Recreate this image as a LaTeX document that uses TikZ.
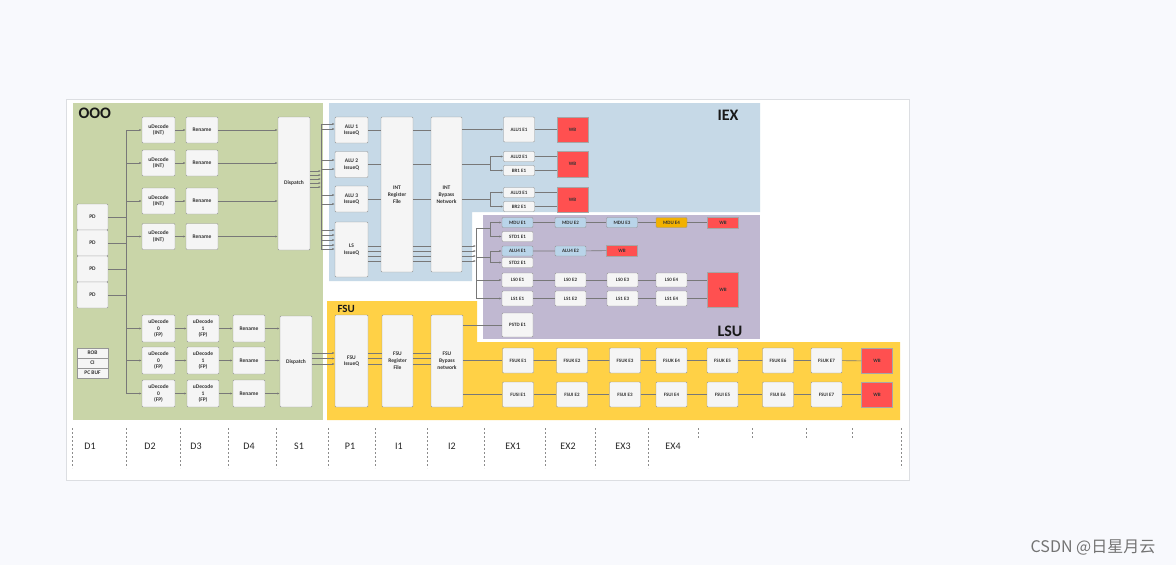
\documentclass[tikz,border=0pt]{standalone}
\usepackage{fontspec}
\setmainfont{Carlito}
\newfontfamily\cjkfont{Noto Sans CJK SC}
\usetikzlibrary{arrows.meta,positioning,calc}

\definecolor{pagebg}{RGB}{248,249,253}
\definecolor{framegray}{RGB}{220,222,226}
\definecolor{ooogreen}{RGB}{201,213,168}
\definecolor{iexblue}{RGB}{198,217,231}
\definecolor{lsupurple}{RGB}{192,184,209}
\definecolor{fsuyellow}{RGB}{255,209,70}
\definecolor{boxfill}{RGB}{245,245,245}
\definecolor{boxedge}{RGB}{150,150,150}
\definecolor{wbred}{RGB}{255,80,80}
\definecolor{mdublue}{RGB}{185,212,233}
\definecolor{mduorange}{RGB}{242,177,0}
\definecolor{linegray}{RGB}{120,120,120}

\begin{document}
\begin{tikzpicture}[x=1pt,y=-1pt,
    blk/.style={draw=boxedge, fill=boxfill, rounded corners=1pt, align=center, inner sep=0pt,
      font=\fontsize{5.5}{6.8}\selectfont\bfseries, text=black!80, minimum width=32, minimum height=26},
    cell/.style={blk, minimum width=31, minimum height=10, font=\fontsize{5}{5.5}\selectfont\bfseries},
    wb/.style={cell, fill=wbred, draw=black!35, rounded corners=0pt},
    ln/.style={draw=linegray, line width=0.6pt},
    arr/.style={ln, -{Latex[length=2.4pt,width=2pt]}},
    region/.style={font=\fontsize{16}{16}\selectfont\bfseries, text=black!90},
    stagesep/.style={draw=black!45, dashed, dash pattern=on 2pt off 2pt, line width=0.5pt},
    stagelbl/.style={font=\fontsize{10}{10}\selectfont, text=black!85}
  ]
  % page and frame
  \useasboundingbox[fill=pagebg] (0,0) rectangle (1176,565);
  \draw[framegray, fill=white] (66,99) rectangle (909,480);

  % regions
  \fill[ooogreen] (73,103) rectangle (323,420);
  \fill[iexblue] (329,103) -- (760,103) -- (760,212) -- (472,212) -- (472,281) -- (329,281) -- cycle;
  \fill[lsupurple] (483,215) rectangle (760,339);
  \fill[fsuyellow] (327,301) -- (477,301) -- (477,342) -- (900,342) -- (900,420) -- (327,420) -- cycle;

  \node[region, anchor=west] (lbl-ooo) at (75,113.5) {OOO};
  \node[region] (lbl-iex) at (728,115) {IEX};
  \node[region] (lbl-lsu) at (730,331) {LSU};
  \node[region, anchor=west, font=\fontsize{11}{11}\selectfont\bfseries] (lbl-fsu) at (334,309) {FSU};

  % ---- OOO ----
  \node[blk, minimum width=31] (pd1) at (92.5,217) {PD};
  \node[blk, minimum width=31] (pd2) at (92.5,243) {PD};
  \node[blk, minimum width=31] (pd3) at (92.5,269) {PD};
  \node[blk, minimum width=31] (pd4) at (92.5,295) {PD};
  \node[blk, minimum width=31, minimum height=10, rounded corners=0pt] (rob) at (92.5,353) {ROB};
  \node[blk, minimum width=31, minimum height=10, rounded corners=0pt] (ci) at (92.5,363) {CI};
  \node[blk, minimum width=31, minimum height=10, rounded corners=0pt] (pcbuf) at (92.5,373) {PC BUF};

  \foreach \i/\y in {1/130,2/163,3/201,4/236.5}{
    \node[blk, minimum width=33] (dec\i) at (158.5,\y) {uDecode\\(INT)};
    \node[blk] (ren\i) at (202,\y) {Rename};
  }
  \node[blk, minimum height=133] (dispI) at (294,183.5) {Dispatch};

  \foreach \i/\y in {1/328.5,2/360.5,3/393.5}{
    \node[blk, minimum width=33, minimum height=27] (fda\i) at (158.5,\y) {uDecode\\0\\(FP)};
    \node[blk, minimum height=27] (fdb\i) at (203,\y) {uDecode\\1\\(FP)};
    \node[blk, minimum height=27] (fren\i) at (249,\y) {Rename};
  }
  \node[blk, minimum height=91] (dispF) at (296,361.5) {Dispatch};

  % ---- IEX ----
  \node[blk, minimum width=33] (iq1) at (351.5,130) {ALU 1\\IssueQ};
  \node[blk, minimum width=33] (iq2) at (351.5,164.5) {ALU 2\\IssueQ};
  \node[blk, minimum width=33] (iq3) at (351.5,199) {ALU 3\\IssueQ};
  \node[blk, minimum width=33, minimum height=55] (lsq) at (351.5,249.5) {LS\\IssueQ};
  \node[blk, minimum height=155] (irf) at (397,194.5) {INT\\Register\\File};
  \node[blk, minimum width=31, minimum height=155] (ibyp) at (446.5,194.5) {INT\\Bypass\\Network};

  \node[cell, minimum height=25] (alu1e1) at (519,129.5) {ALU1 E1};
  \node[cell] (alu2e1) at (519,156.5) {ALU2 E1};
  \node[cell] (br1e1) at (519,170.5) {BR1 E1};
  \node[cell] (alu3e1) at (519,192.5) {ALU3 E1};
  \node[cell] (br2e1) at (519,206.5) {BR2 E1};
  \node[wb, minimum height=25] (wb1) at (572.5,129.5) {WB};
  \node[wb, minimum height=26] (wb2) at (572.5,164) {WB};
  \node[wb, minimum height=25] (wb3) at (572.5,199.5) {WB};

  % ---- LSU ----
  \node[cell, fill=mdublue] (mdu1) at (517.5,222.5) {MDU E1};
  \node[cell] (std1) at (517.5,236.5) {STD1 E1};
  \node[cell, fill=mdublue] (alu4e1) at (517.5,251) {ALU4 E1};
  \node[cell] (std2) at (517.5,262.5) {STD2 E1};
  \node[cell, minimum height=14] (ls0e1) at (517.5,280) {LS0 E1};
  \node[cell, minimum height=15] (ls1e1) at (517.5,298.5) {LS1 E1};
  \node[cell, minimum height=24] (pstd) at (517.5,325) {PSTD E1};

  \node[cell, fill=mdublue] (mdu2) at (570.5,222.5) {MDU E2};
  \node[cell, fill=mdublue] (mdu3) at (622,222.5) {MDU E3};
  \node[cell, fill=mduorange] (mdu4) at (671.5,222.5) {MDU E4};
  \node[wb, minimum height=11] (wbm) at (723,222.5) {WB};
  \node[cell, fill=mdublue] (alu4e2) at (570.5,251) {ALU4 E2};
  \node[wb, minimum height=11] (wba) at (622,250.5) {WB};

  \node[cell, minimum height=14] (ls0e2) at (570.5,280) {LS0 E2};
  \node[cell, minimum height=14] (ls0e3) at (622.5,280) {LS0 E3};
  \node[cell, minimum height=14] (ls0e4) at (671.5,280) {LS0 E4};
  \node[cell, minimum height=15] (ls1e2) at (570.5,298.5) {LS1 E2};
  \node[cell, minimum height=15] (ls1e3) at (622.5,298.5) {LS1 E3};
  \node[cell, minimum height=15] (ls1e4) at (671.5,298.5) {LS1 E4};
  \node[wb, minimum height=35] (wbl) at (723,289.5) {WB};

  % ---- FSU ----
  \node[blk, minimum width=33, minimum height=92] (fiq) at (351.5,361) {FSU\\IssueQ};
  \node[blk, minimum width=31, minimum height=92] (frf) at (397.5,361) {FSU\\Register\\File};
  \node[blk, minimum height=92] (fbyp) at (447,361) {FSU\\Bypass\\network};

  \foreach \j/\x/\t in {1/518/FUSI,2/572/FSUI,3/625/FSUI,4/671.5/FSUI,5/722.5/FSUI,6/778/FSUI,7/826.5/FSUI}{
    \node[cell, minimum height=25] (fsk\j) at (\x,360.5) {FSUK E\j};
    \node[cell, minimum height=25] (fsi\j) at (\x,394.5) {\t{} E\j};
  }
  \node[wb, minimum height=25] (wbk) at (877,361) {WB};
  \node[wb, minimum height=25] (wbi) at (877,394.5) {WB};

  % ---- connectors: OOO ----
  \coordinate (obus-t) at (126.5,130);
  \coordinate (obus-b) at (126.5,393.5);
  \draw[ln] (obus-t) -- (obus-b);
  \foreach \p in {pd1,pd2,pd3,pd4}
    \draw[ln] (\p.east) -- (\p.east -| obus-t);
  \foreach \i in {1,...,4}{
    \draw[arr] (dec\i.west -| obus-t) -- (dec\i.west);
    \draw[arr] (dec\i) -- (ren\i);
    \draw[arr] (ren\i) -- (ren\i -| dispI.west);
  }
  \foreach \i in {1,2,3}{
    \draw[arr] (fda\i.west -| obus-t) -- (fda\i.west);
    \draw[arr] (fda\i) -- (fdb\i);
    \draw[arr] (fdb\i) -- (fren\i);
    \draw[arr] (fren\i) -- (fren\i -| dispF.west);
  }

  % ---- connectors: IEX ----
  \coordinate (ibus-t) at (321,124);
  \coordinate (ibus-b) at (321,249);
  \draw[ln] (ibus-t) -- (ibus-b);
  \foreach \y in {171,175,179,183,187}
    \draw[arr] (dispI.east |- 0,\y) -- (ibus-t |- 0,\y);
  \foreach \q/\y in {iq1/124,iq1/129,iq2/160,iq2/169,iq3/195,iq3/204,lsq/230,lsq/235,lsq/240,lsq/245,lsq/249}
    \draw[arr] (ibus-t |- 0,\y) -- (\q.west |- 0,\y);
  \foreach \q in {iq1,iq2,iq3}{
    \draw[ln] (\q.east) -- (\q.east -| irf.west);
    \draw[ln] (\q.east -| irf.east) -- (\q.east -| ibyp.west);
  }

  \coordinate (lbus-t) at (476,228);
  \coordinate (lbus-b) at (476,298.5);
  \draw[ln] (lbus-t) -- (lbus-b);
  \foreach \y in {246,251,256,261}{
    \draw[ln] (lsq.east |- 0,\y) -- (irf.west |- 0,\y);
    \draw[ln] (irf.east |- 0,\y) -- (ibyp.west |- 0,\y);
    \draw[arr] (ibyp.east |- 0,\y) -- (lbus-t |- 0,\y);
  }

  \draw[arr] (ibyp.east |- alu1e1) -- (alu1e1.west);
  \coordinate (fork2) at (490,164.5);
  \draw[ln] (ibyp.east |- fork2) -- (fork2);
  \draw[arr] (fork2) |- (alu2e1.west);
  \draw[arr] (fork2) |- (br1e1.west);
  \coordinate (fork3) at (490,199);
  \draw[ln] (ibyp.east |- fork3) -- (fork3);
  \draw[arr] (fork3) |- (alu3e1.west);
  \draw[arr] (fork3) |- (br2e1.west);

  \draw[ln] (alu1e1) -- (wb1);
  \foreach \e/\w in {alu2e1/wb2,br1e1/wb2,alu3e1/wb3,br2e1/wb3}
    \draw[ln] (\e.east) -- (\e.east -| \w.west);

  % ---- connectors: LSU ----
  \coordinate (forkm) at (490,228);
  \draw[ln] (lbus-t) -- (forkm);
  \draw[arr] (forkm) |- (mdu1.west);
  \draw[arr] (forkm) |- (std1.west);
  \coordinate (forka) at (490,257);
  \draw[ln] (lbus-t |- forka) -- (forka);
  \draw[arr] (forka) |- (alu4e1.west);
  \draw[arr] (forka) |- (std2.west);
  \draw[arr] (lbus-t |- ls0e1) -- (ls0e1.west);
  \draw[arr] (lbus-b) -- (ls1e1.west);

  \draw[ln] (mdu1) -- (mdu2) -- (mdu3) -- (mdu4) -- (wbm);
  \draw[ln] (alu4e1) -- (alu4e2) -- (wba);
  \draw[ln] (ls0e1) -- (ls0e2) -- (ls0e3) -- (ls0e4) -- (ls0e4.east -| wbl.west);
  \draw[ln] (ls1e1) -- (ls1e2) -- (ls1e3) -- (ls1e4) -- (ls1e4.east -| wbl.west);

  % ---- connectors: FSU ----
  \foreach \y in {353,358.5,364}{
    \draw[arr] (dispF.east |- 0,\y) -- (fiq.west |- 0,\y);
    \draw[ln] (fiq.east |- 0,\y) -- (frf.west |- 0,\y);
    \draw[ln] (frf.east |- 0,\y) -- (fbyp.west |- 0,\y);
  }
  \draw[ln] (fbyp.east |- pstd) -- (pstd.west);
  \draw[ln] (fbyp.east |- fsk1) -- (fsk1.west);
  \draw[ln] (fbyp.east |- fsi1) -- (fsi1.west);
  \draw[ln] (fsk1) -- (fsk2) -- (fsk3) -- (fsk4) -- (fsk5) -- (fsk6) -- (fsk7) -- (wbk);
  \draw[ln] (fsi1) -- (fsi2) -- (fsi3) -- (fsi4) -- (fsi5) -- (fsi6) -- (fsi7) -- (wbi);

  % ---- pipeline stages ----
  \foreach \x in {72,126,180,228,276,328,375,427,484,545,595,648,901}
    \draw[stagesep] (\x,428) -- (\x,468);
  \foreach \x in {698,752,806,852}
    \draw[stagesep] (\x,428) -- (\x,438);
  \foreach \x/\t in {90/D1,150/D2,196/D3,249/D4,299/S1,350/P1,399/I1,452/I2,513/EX1,568/EX2,623/EX3,673/EX4}
    \node[stagelbl] (st-\t) at (\x,446) {\t};

  \node[font=\cjkfont\fontsize{16}{16}\selectfont, text=black!55] (wmark) at (1093,547) {CSDN @日星月云};
\end{tikzpicture}
\end{document}
